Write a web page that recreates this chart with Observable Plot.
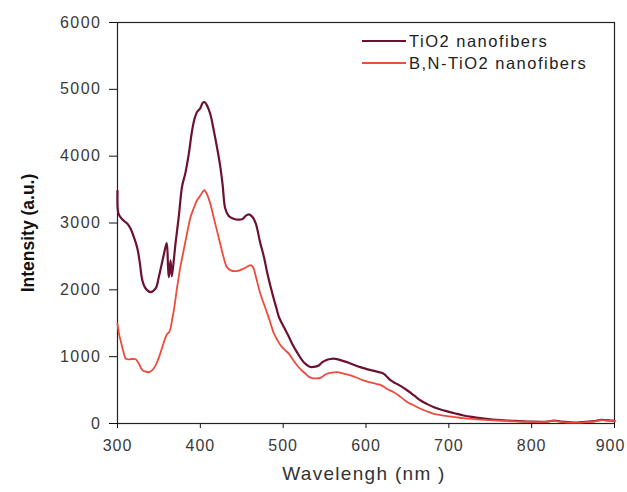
<!DOCTYPE html>
<html>
<head>
<meta charset="utf-8">
<script src="https://cdn.jsdelivr.net/npm/d3@7"></script>
<script src="https://cdn.jsdelivr.net/npm/@observablehq/plot@0.6"></script>
<style>
  html, body { margin: 0; padding: 0; background: #fff; }
  #wrap { position: relative; width: 627px; height: 492px; }
  #legend { position: absolute; left: 362px; top: 30px; font-family: "Liberation Sans", Arial, sans-serif; font-size: 16.5px; color: #222; letter-spacing: 1.5px; }
  #legend .row { display: flex; align-items: center; height: 22px; }
  #legend .sw { width: 44px; height: 0; border-top: 2.2px solid; margin-right: 3px; }
</style>
</head>
<body>
<div id="wrap"><div id="legend"></div></div>
<script>
const seriesNames = ["TiO2 nanofibers", "B,N-TiO2 nanofibers"];
const seriesColors = ["#6d1130", "#ef4b3c"];

const tio2Wavelength = [300,301,304,308,312,316,320,324,327,330,334,340,346,350,354,358,359.5,361,362,364,365.5,368,370,374,378,382,386,390,393,396,400,403,405,408,412,416,420,424,427,430,434,440,446,451,455,459,463,467,472,477,481,487,492,495,501,506,511,517,523,528,533,539,543,547,551,557,563,570,577,585,593,602,611,617,622,626,630,636,642,650,658,666,674,682,690,698,708,718,728,738,748,758,770,780,790,800,810,820,827,835,845,855,865,875,884,890,895,900];
const tio2Intensity = [3480,3150,3080,3030,2990,2910,2780,2620,2400,2140,2020,1965,2020,2200,2420,2640,2700,2350,2190,2440,2200,2450,2690,3100,3550,3750,4030,4380,4560,4660,4720,4800,4810,4760,4630,4400,4140,3850,3560,3220,3110,3065,3050,3060,3110,3130,3090,2990,2720,2480,2240,1940,1720,1590,1440,1320,1190,1060,945,880,845,850,868,915,943,965,968,945,918,880,843,810,783,765,740,690,644,600,560,494,420,344,290,244,210,182,150,120,98,80,66,55,45,38,32,28,25,30,45,30,20,15,25,35,55,50,45,40];

const bnWavelength = [300,302,304,307,310,314,318,322,326,330,334,338,342,346,350,354,358,360,362,364,366,368,372,376,380,384,388,392,396,400,403,405,408,412,416,420,424,428,432,436,444,452,457,461,464,467,472,477,481,485,489,493,497,502,507,512,517,522,527,531,535,540,545,549,553,559,565,573,581,589,597,605,613,618,622,626,634,642,650,658,666,674,682,690,698,708,718,728,738,748,758,770,780,790,800,810,820,827,835,845,855,865,875,884,890,895,900];
const bnIntensity = [1490,1330,1230,1080,970,960,965,960,890,800,775,768,800,870,990,1140,1290,1340,1360,1420,1560,1690,2040,2350,2600,2850,3080,3220,3340,3410,3470,3490,3430,3290,3090,2890,2690,2490,2340,2295,2280,2316,2350,2370,2330,2200,1960,1780,1640,1490,1343,1250,1168,1100,1043,950,868,800,744,700,678,675,684,715,744,762,768,745,719,685,644,615,590,575,545,512,465,395,319,270,220,180,145,125,110,95,80,68,58,50,45,38,32,28,25,22,28,40,25,15,12,20,30,50,45,40,38];

const xTicks = [300,400,500,600,700,800,900];
const yTicks = [0,1000,2000,3000,4000,5000,6000];

const tio2 = tio2Wavelength.map((w, i) => ({w, v: tio2Intensity[i]}));
const bn = bnWavelength.map((w, i) => ({w, v: bnIntensity[i]}));

const font = "'Liberation Sans', Arial, sans-serif";

const chart = Plot.plot({
  width: 627,
  height: 492,
  marginLeft: 117,
  marginRight: 13,
  marginTop: 22,
  marginBottom: 69,
  style: {fontFamily: font, fontSize: "16px", background: "#fff", color: "#333"},
  x: {domain: [300, 900]},
  y: {domain: [0, 6000]},
  marks: [
    Plot.frame({stroke: "#222", strokeWidth: 1.2}),
    Plot.axisX(xTicks, {tickSize: 5, tickPadding: 11, fontSize: 16, fill: "#3a3a3a", stroke: "#111", label: null, tickFormat: d => String(d)}),
    Plot.axisY(yTicks, {tickSize: 8, tickPadding: 8, fontSize: 16, fill: "#3a3a3a", stroke: "#111", label: null, tickFormat: d => String(d)}),
    Plot.line(tio2, {x: "w", y: "v", stroke: seriesColors[0], strokeWidth: 2.2, curve: "catmull-rom"}),
    Plot.line(bn, {x: "w", y: "v", stroke: seriesColors[1], strokeWidth: 1.8, curve: "catmull-rom"}),
    Plot.text(["Intensity (a.u.)"], {frameAnchor: "left", textAnchor: "middle", rotate: -90, dx: -89, dy: 10, fontSize: 17.5, fontWeight: "bold", fill: "#111"}),
    Plot.text(["Wavelengh (nm )"], {frameAnchor: "bottom", textAnchor: "middle", dy: 56, dx: -2, fontSize: 19, fill: "#333"})
  ]
});
const setSpacing = (sel, v) => chart.querySelectorAll(sel).forEach(g => g.style.letterSpacing = v);
setSpacing('g[aria-label="x-axis tick label"]', "1px");
setSpacing('g[aria-label="y-axis tick label"]', "1.5px");
chart.querySelectorAll("text").forEach(t => {
  if (t.textContent.startsWith("Wavelengh")) t.style.letterSpacing = "1.3px";
});
chart.querySelectorAll('g[aria-label="x-axis tick label"] text').forEach(t => {
  if (t.textContent === "900") t.setAttribute("dx", "-4");
});
document.getElementById("wrap").prepend(chart);

const legend = document.getElementById("legend");
seriesNames.forEach((name, i) => {
  const row = document.createElement("div");
  row.className = "row";
  const sw = document.createElement("span");
  sw.className = "sw";
  sw.style.borderColor = seriesColors[i];
  const t = document.createElement("span");
  t.textContent = name;
  row.append(sw, t);
  legend.append(row);
});
</script>
</body>
</html>
